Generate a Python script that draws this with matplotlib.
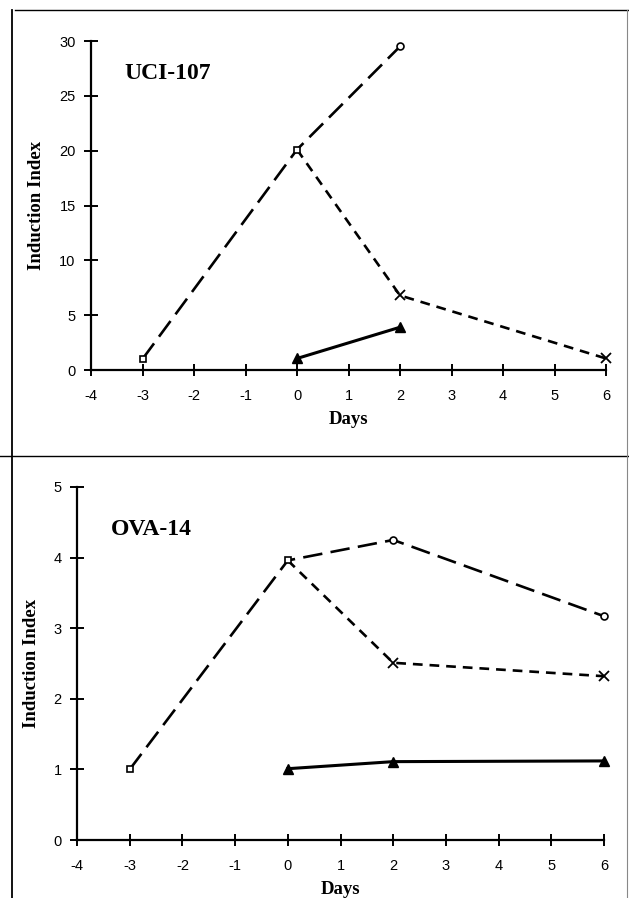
"""Induction index over days, UCI-107 and OVA-14 panels."""

import matplotlib
matplotlib.use("Agg")
import matplotlib.pyplot as plt
from matplotlib.lines import Line2D

plt.rcParams.update({"lines.scale_dashes": False, "font.family": "Liberation Sans",
                     "axes.unicode_minus": False})

# top panel: UCI-107
uci_days_a = [-3, 0, 2]
uci_vals_a = [1.0, 20.1, 29.5]
uci_days_b = [0, 2, 6]
uci_vals_b = [20.1, 6.8, 1.05]
uci_days_c = [0, 2]
uci_vals_c = [1.05, 3.9]

# bottom panel: OVA-14
ova_days_a = [-3, 0, 2, 6]
ova_vals_a = [1.0, 3.96, 4.25, 3.17]
ova_days_b = [0, 2, 6]
ova_vals_b = [3.96, 2.51, 2.32]
ova_days_c = [0, 2, 6]
ova_vals_c = [1.01, 1.11, 1.12]

x_ticks = list(range(-4, 7))
uci_yticks = [0, 5, 10, 15, 20, 25, 30]
ova_yticks = [0, 1, 2, 3, 4, 5]

SERIF = "Liberation Serif"

fig = plt.figure(figsize=(6.29, 8.98), dpi=100)

# scanned frame lines
fig.add_artist(Line2D([15 / 629, 1], [1 - 10 / 898] * 2, color="k", lw=1.0))
fig.add_artist(Line2D([12 / 629] * 2, [0, 1 - 10 / 898], color="k", lw=1.3))
fig.add_artist(Line2D([0, 1], [1 - 456 / 898] * 2, color="k", lw=1.0))
fig.add_artist(Line2D([627 / 629] * 2, [0, 1 - 10 / 898], color="#888888", lw=0.8))


def style_axes(ax, yticks, ymax, title, title_xy):
    ax.set_xlim(-4, 6)
    ax.set_ylim(0, ymax)
    ax.set_xticks(x_ticks)
    ax.set_yticks(yticks)
    for s in ["top", "right"]:
        ax.spines[s].set_visible(False)
    for s in ["left", "bottom"]:
        ax.spines[s].set_linewidth(1.6)
    ax.tick_params(direction="inout", length=10, width=1.4, labelsize=10.5, pad=6)
    ax.tick_params(axis="x", length=9, pad=9)
    ax.set_xlabel("Days", family=SERIF, fontweight="bold", fontsize=13.5, labelpad=6)
    ax.set_ylabel("Induction Index", family=SERIF, fontweight="bold", fontsize=13.5,
                  labelpad=10)
    ax.text(title_xy[0], title_xy[1], title, transform=ax.transAxes,
            family=SERIF, fontweight="bold", fontsize=17, va="center", ha="left")
    for sp in ax.spines.values():
        sp.set_clip_on(False)


def draw(ax, da, va, db, vb, dc, vc):
    long_dash = (0, (14, 6))
    short_dash = (0, (7, 5))
    ax.plot(da, va, color="k", lw=1.9, linestyle=long_dash, zorder=3, clip_on=False)
    ax.plot(db, vb, color="k", lw=1.9, linestyle=short_dash, zorder=3, clip_on=False)
    ax.plot(dc, vc, color="k", lw=2.2, zorder=3, clip_on=False)
    # markers
    ax.plot(da[:2], va[:2], "s", ms=5, mfc="white", mec="k", mew=1.2, zorder=4, clip_on=False)
    ax.plot(da[2:], va[2:], "o", ms=5, mfc="white", mec="k", mew=1.2, zorder=4, clip_on=False)
    ax.plot(db[1:], vb[1:], "x", ms=6.5, mec="k", mew=1.3, zorder=4, clip_on=False)
    ax.plot(dc, vc, "^", ms=6.5, color="k", zorder=4, clip_on=False)


ax1 = fig.add_axes([91 / 629, 1 - 370 / 898, (606 - 91) / 629, (370 - 41) / 898])
draw(ax1, uci_days_a, uci_vals_a, uci_days_b, uci_vals_b, uci_days_c, uci_vals_c)
style_axes(ax1, uci_yticks, 30, "UCI-107", (0.065, 0.9))

ax2 = fig.add_axes([77 / 629, 1 - 840 / 898, (604 - 77) / 629, (840 - 487) / 898])
draw(ax2, ova_days_a, ova_vals_a, ova_days_b, ova_vals_b, ova_days_c, ova_vals_c)
style_axes(ax2, ova_yticks, 5, "OVA-14", (0.065, 0.88))

fig.savefig("out.png", dpi=100)
